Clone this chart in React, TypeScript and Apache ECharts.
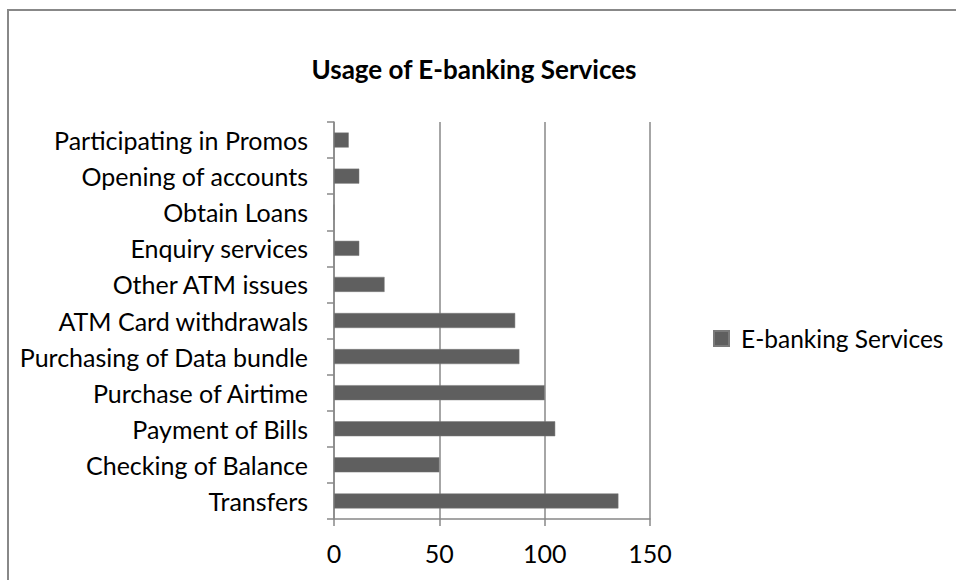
import React, { useEffect, useRef } from "react";
import * as echarts from "echarts";

const categories = [
  "Transfers",
  "Checking of Balance",
  "Payment of Bills",
  "Purchase of Airtime",
  "Purchasing of Data bundle",
  "ATM Card withdrawals",
  "Other ATM issues",
  "Enquiry services",
  "Obtain Loans",
  "Opening of accounts",
  "Participating in Promos",
];
const values = [135, 50, 105, 100, 88, 86, 24, 12, 0, 12, 7];
const seriesName = "E-banking Services";
const title = "Usage of E-banking Services";

const FONT = "Lato, 'Open Sans', sans-serif";

export default function App() {
  const ref = useRef<HTMLDivElement>(null);
  useEffect(() => {
    document.body.style.margin = "0";
    const chart = echarts.init(ref.current!, undefined, { renderer: "svg" });
    chart.setOption({
      animation: false,
      backgroundColor: "#ffffff",
      title: {
        text: title,
        left: 469,
        textAlign: "center",
        top: 51,
        textStyle: { fontFamily: FONT, fontSize: 26, fontWeight: "bold", color: "#000" },
      },
      legend: {
        left: 713,
        top: 326,
        padding: 0,
        itemWidth: 15,
        itemHeight: 15,
        itemGap: 10,
        icon: "rect",
        textStyle: { fontFamily: FONT, fontSize: 24.5, color: "#000", padding: [0, 0, 0, 7] },
        data: [seriesName],
      },
      graphic: [
        {
          type: "rect",
          shape: { x: 8, y: 10, width: 960, height: 600 },
          style: { fill: "none", stroke: "#888888", lineWidth: 2 },
          silent: true,
        },
      ],
      grid: { left: 334, right: 306, top: 122, bottom: 61 },
      xAxis: {
        type: "value",
        min: 0,
        max: 150,
        interval: 50,
        axisLine: { show: true, lineStyle: { color: "#888888", width: 1.5 } },
        axisTick: { show: true, length: 7, lineStyle: { color: "#888888", width: 1.5 } },
        splitLine: { show: true, lineStyle: { color: "#888888", width: 1.5 } },
        axisLabel: { fontFamily: FONT, fontSize: 25, color: "#000", margin: 21 },
      },
      yAxis: {
        type: "category",
        data: categories,
        axisLine: { show: true, lineStyle: { color: "#888888", width: 1.5 } },
        axisTick: { show: true, length: 7, lineStyle: { color: "#888888", width: 1.5 } },
        axisLabel: { fontFamily: FONT, fontSize: 25, color: "#000", margin: 26 },
      },
      series: [
        {
          name: seriesName,
          type: "bar",
          data: values,
          barWidth: 15,
          itemStyle: { color: "#5f5f5f", borderColor: "#7a7a7a", borderWidth: 0.5 },
        },
      ],
    });
    return () => chart.dispose();
  }, []);
  return <div ref={ref} style={{ width: 956, height: 580 }} />;
}
